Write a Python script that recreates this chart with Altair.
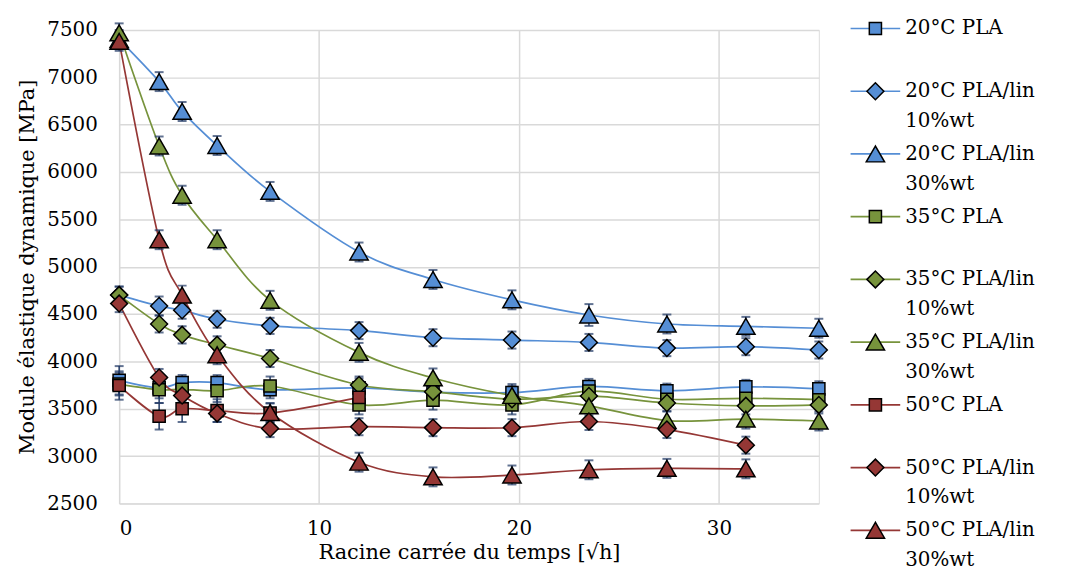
import altair as alt
import pandas as pd

# --- data ---------------------------------------------------------------
t_values = [0, 2, 3.15, 4.9, 7.55, 12, 15.7, 19.65, 23.5, 27.4, 31.35, 35]

series_names = [
    "20°C PLA", "20°C PLA/lin 10%wt", "20°C PLA/lin 30%wt",
    "35°C PLA", "35°C PLA/lin 10%wt", "35°C PLA/lin 30%wt",
    "50°C PLA", "50°C PLA/lin 10%wt", "50°C PLA/lin 30%wt",
]
material_kind = [0, 1, 2, 0, 1, 2, 0, 1, 2]   # 0 = PLA, 1 = PLA/lin 10%, 2 = PLA/lin 30%
legend_line1 = ["20°C PLA", "20°C PLA/lin", "20°C PLA/lin",
                "35°C PLA", "35°C PLA/lin", "35°C PLA/lin",
                "50°C PLA", "50°C PLA/lin", "50°C PLA/lin"]
legend_line2 = ["", "10%wt", "30%wt", "", "10%wt", "30%wt", "", "10%wt", "30%wt"]

pla_20 = [3800, 3720, 3775, 3775, 3700, 3720, 3675, 3670, 3735, 3690, 3730, 3710]
lin10_20 = [4700, 4585, 4540, 4445, 4375, 4325, 4250, 4225, 4200, 4140, 4155, 4120]
lin30_20 = [7400, 6955, 6640, 6280, 5795, 5155, 4865, 4650, 4490, 4395, 4370, 4350]
pla_35 = [3760, 3700, 3705, 3690, 3740, 3540, 3590, 3540, 3685, 3600, 3610, 3595]
lin10_35 = [4700, 4395, 4280, 4175, 4030, 3750, 3680, 3600, 3635, 3560, 3530, 3540]
lin30_35 = [7470, 6275, 5755, 5285, 4645, 4095, 3825, 3640, 3530, 3375, 3390, 3370]
pla_50 = [3745, 3420, 3500, 3480, 3455, 3620]
lin10_50 = [4610, 3830, 3640, 3450, 3290, 3310, 3300, 3300, 3365, 3280, 3115]
lin30_50 = [7380, 5285, 4700, 4070, 3460, 2935, 2780, 2800, 2855, 2870, 2865]

err_pla_20 = [150, 110, 80, 80, 90, 100, 80, 90, 80, 75, 75, 80]
err_lin10_20 = [90, 100, 90, 90, 85, 90, 90, 90, 90, 85, 90, 90]
err_lin30_20 = [100, 100, 100, 100, 100, 100, 100, 100, 115, 100, 100, 100]
err_pla_35 = [120, 140, 120, 120, 100, 100, 100, 100, 90, 90, 90, 90]
err_lin10_35 = [90, 90, 90, 90, 90, 90, 90, 90, 90, 90, 90, 90]
err_lin30_35 = [100, 100, 100, 100, 100, 100, 100, 100, 100, 100, 100, 100]
err_pla_50 = [150, 140, 140, 120, 100, 100]
err_lin10_50 = [90, 90, 90, 90, 90, 90, 90, 90, 90, 90, 90]
err_lin30_50 = [100, 100, 100, 100, 100, 100, 100, 100, 100, 100, 100]

series_values = [pla_20, lin10_20, lin30_20, pla_35, lin10_35, lin30_35, pla_50, lin10_50, lin30_50]
series_errors = [err_pla_20, err_lin10_20, err_lin30_20, err_pla_35, err_lin10_35,
                 err_lin30_35, err_pla_50, err_lin10_50, err_lin30_50]

# --- styles ---------------------------------------------------------------
BLUE, GREEN, RED = "#558ED5", "#77933C", "#953735"
colors = [BLUE] * 3 + [GREEN] * 3 + [RED] * 3
shapes = ["square", "diamond", "triangle-up"] * 3
FONT = "DejaVu Serif"
ERR_COLOR = "#1F3864"

rows = []
for name, kind, vals, errs in zip(series_names, material_kind, series_values, series_errors):
    for t, v, e in zip(t_values, vals, errs):
        rows.append({"series": name, "kind": kind, "t": t, "v": v, "lo": v - e, "hi": v + e})
df = pd.DataFrame(rows)

leg_df = pd.DataFrame({
    "series": series_names,
    "kind": material_kind,
    "idx": list(range(len(series_names))),
    "line1": legend_line1,
    "line2": legend_line2,
})

color_scale = alt.Scale(domain=series_names, range=colors)
shape_scale = alt.Scale(domain=series_names, range=shapes)
size_scale = alt.Scale(domain=[0, 1, 2], range=[150, 290, 340])

x_enc = alt.X("t:Q", scale=alt.Scale(domain=[0, 35], nice=False, zero=False),
              axis=alt.Axis(values=[0, 10, 20, 30], title="Racine carrée du temps [√h]",
                            grid=True, gridColor="#D9D9D9", gridWidth=1.5,
                            domain=False, ticks=False, labelPadding=15, titlePadding=4,
                            labelFont=FONT, labelFontSize=20, labelColor="black",
                            titleFont=FONT, titleFontSize=21, titleFontWeight="normal",
                            titleColor="black"))
y_scale = alt.Scale(domain=[2500, 7500], nice=False, zero=False)
y_enc = alt.Y("v:Q", scale=y_scale,
              axis=alt.Axis(values=list(range(2500, 7501, 500)), format="d",
                            title="Module élastique dynamique [MPa]",
                            grid=True, gridColor="#D9D9D9", gridWidth=1.5,
                            domain=False, ticks=False, labelPadding=22, titlePadding=9,
                            labelFont=FONT, labelFontSize=20, labelColor="black",
                            titleFont=FONT, titleFontSize=21, titleFontWeight="normal",
                            titleColor="black"))

base = alt.Chart(df)

lines = base.mark_line(interpolate="cardinal", strokeWidth=1.7).encode(
    x=x_enc, y=y_enc,
    color=alt.Color("series:N", scale=color_scale, legend=None),
    detail="series:N",
)
err_rules = base.mark_rule(color=ERR_COLOR, strokeWidth=1.5).encode(
    x="t:Q", y=alt.Y("lo:Q", scale=y_scale), y2="hi:Q",
)
err_top = base.mark_tick(color=ERR_COLOR, orient="horizontal", size=9, thickness=2).encode(
    x="t:Q", y=alt.Y("hi:Q", scale=y_scale),
)
err_bot = base.mark_tick(color=ERR_COLOR, orient="horizontal", size=9, thickness=2).encode(
    x="t:Q", y=alt.Y("lo:Q", scale=y_scale),
)
points = base.mark_point(filled=True, stroke="black", strokeWidth=1.5, opacity=1).encode(
    x="t:Q", y=alt.Y("v:Q", scale=y_scale),
    fill=alt.Fill("series:N", scale=color_scale, legend=None),
    shape=alt.Shape("series:N", scale=shape_scale, legend=None),
    size=alt.Size("kind:Q", scale=size_scale, legend=None),
)
main = alt.layer(lines, err_rules, err_top, err_bot, points)

# --- manual legend ---------------------------------------------------------
# entry i centred at (63.2 * i - 1.5) px below the plot top
leg_y = alt.Y("idx:Q", scale=alt.Scale(domain=[0.0237, 7.5712], reverse=True, nice=False, zero=False),
              axis=None)
lbase = alt.Chart(leg_df).encode(y=leg_y)
leg_rule = lbase.mark_rule(strokeWidth=1.7).encode(
    x=alt.value(737), x2=alt.value(787),
    color=alt.Color("series:N", scale=color_scale, legend=None),
)
leg_pt = lbase.mark_point(filled=True, stroke="black", strokeWidth=1.5, opacity=1).encode(
    x=alt.value(762),
    fill=alt.Fill("series:N", scale=color_scale, legend=None),
    shape=alt.Shape("series:N", scale=shape_scale, legend=None),
    size=alt.Size("kind:Q", scale=size_scale, legend=None),
)
leg_t1 = lbase.mark_text(align="left", baseline="middle", font=FONT, fontSize=20, color="black").encode(
    x=alt.value(792), text="line1:N",
)
leg_t2 = lbase.mark_text(align="left", baseline="middle", font=FONT, fontSize=20, color="black", dy=30).encode(
    x=alt.value(792), text="line2:N",
)
legend = alt.layer(leg_rule, leg_pt, leg_t1, leg_t2)

chart = alt.layer(main, legend).resolve_scale(y="independent").properties(
    width=705, height=477,
    padding={"left": 112, "top": 20, "right": 242, "bottom": 71},
    autosize=alt.AutoSizeParams(type="none"),
).configure_view(stroke=None).configure(background="white")

chart.save("out.html", embed_options={"renderer": "svg", "actions": False})
